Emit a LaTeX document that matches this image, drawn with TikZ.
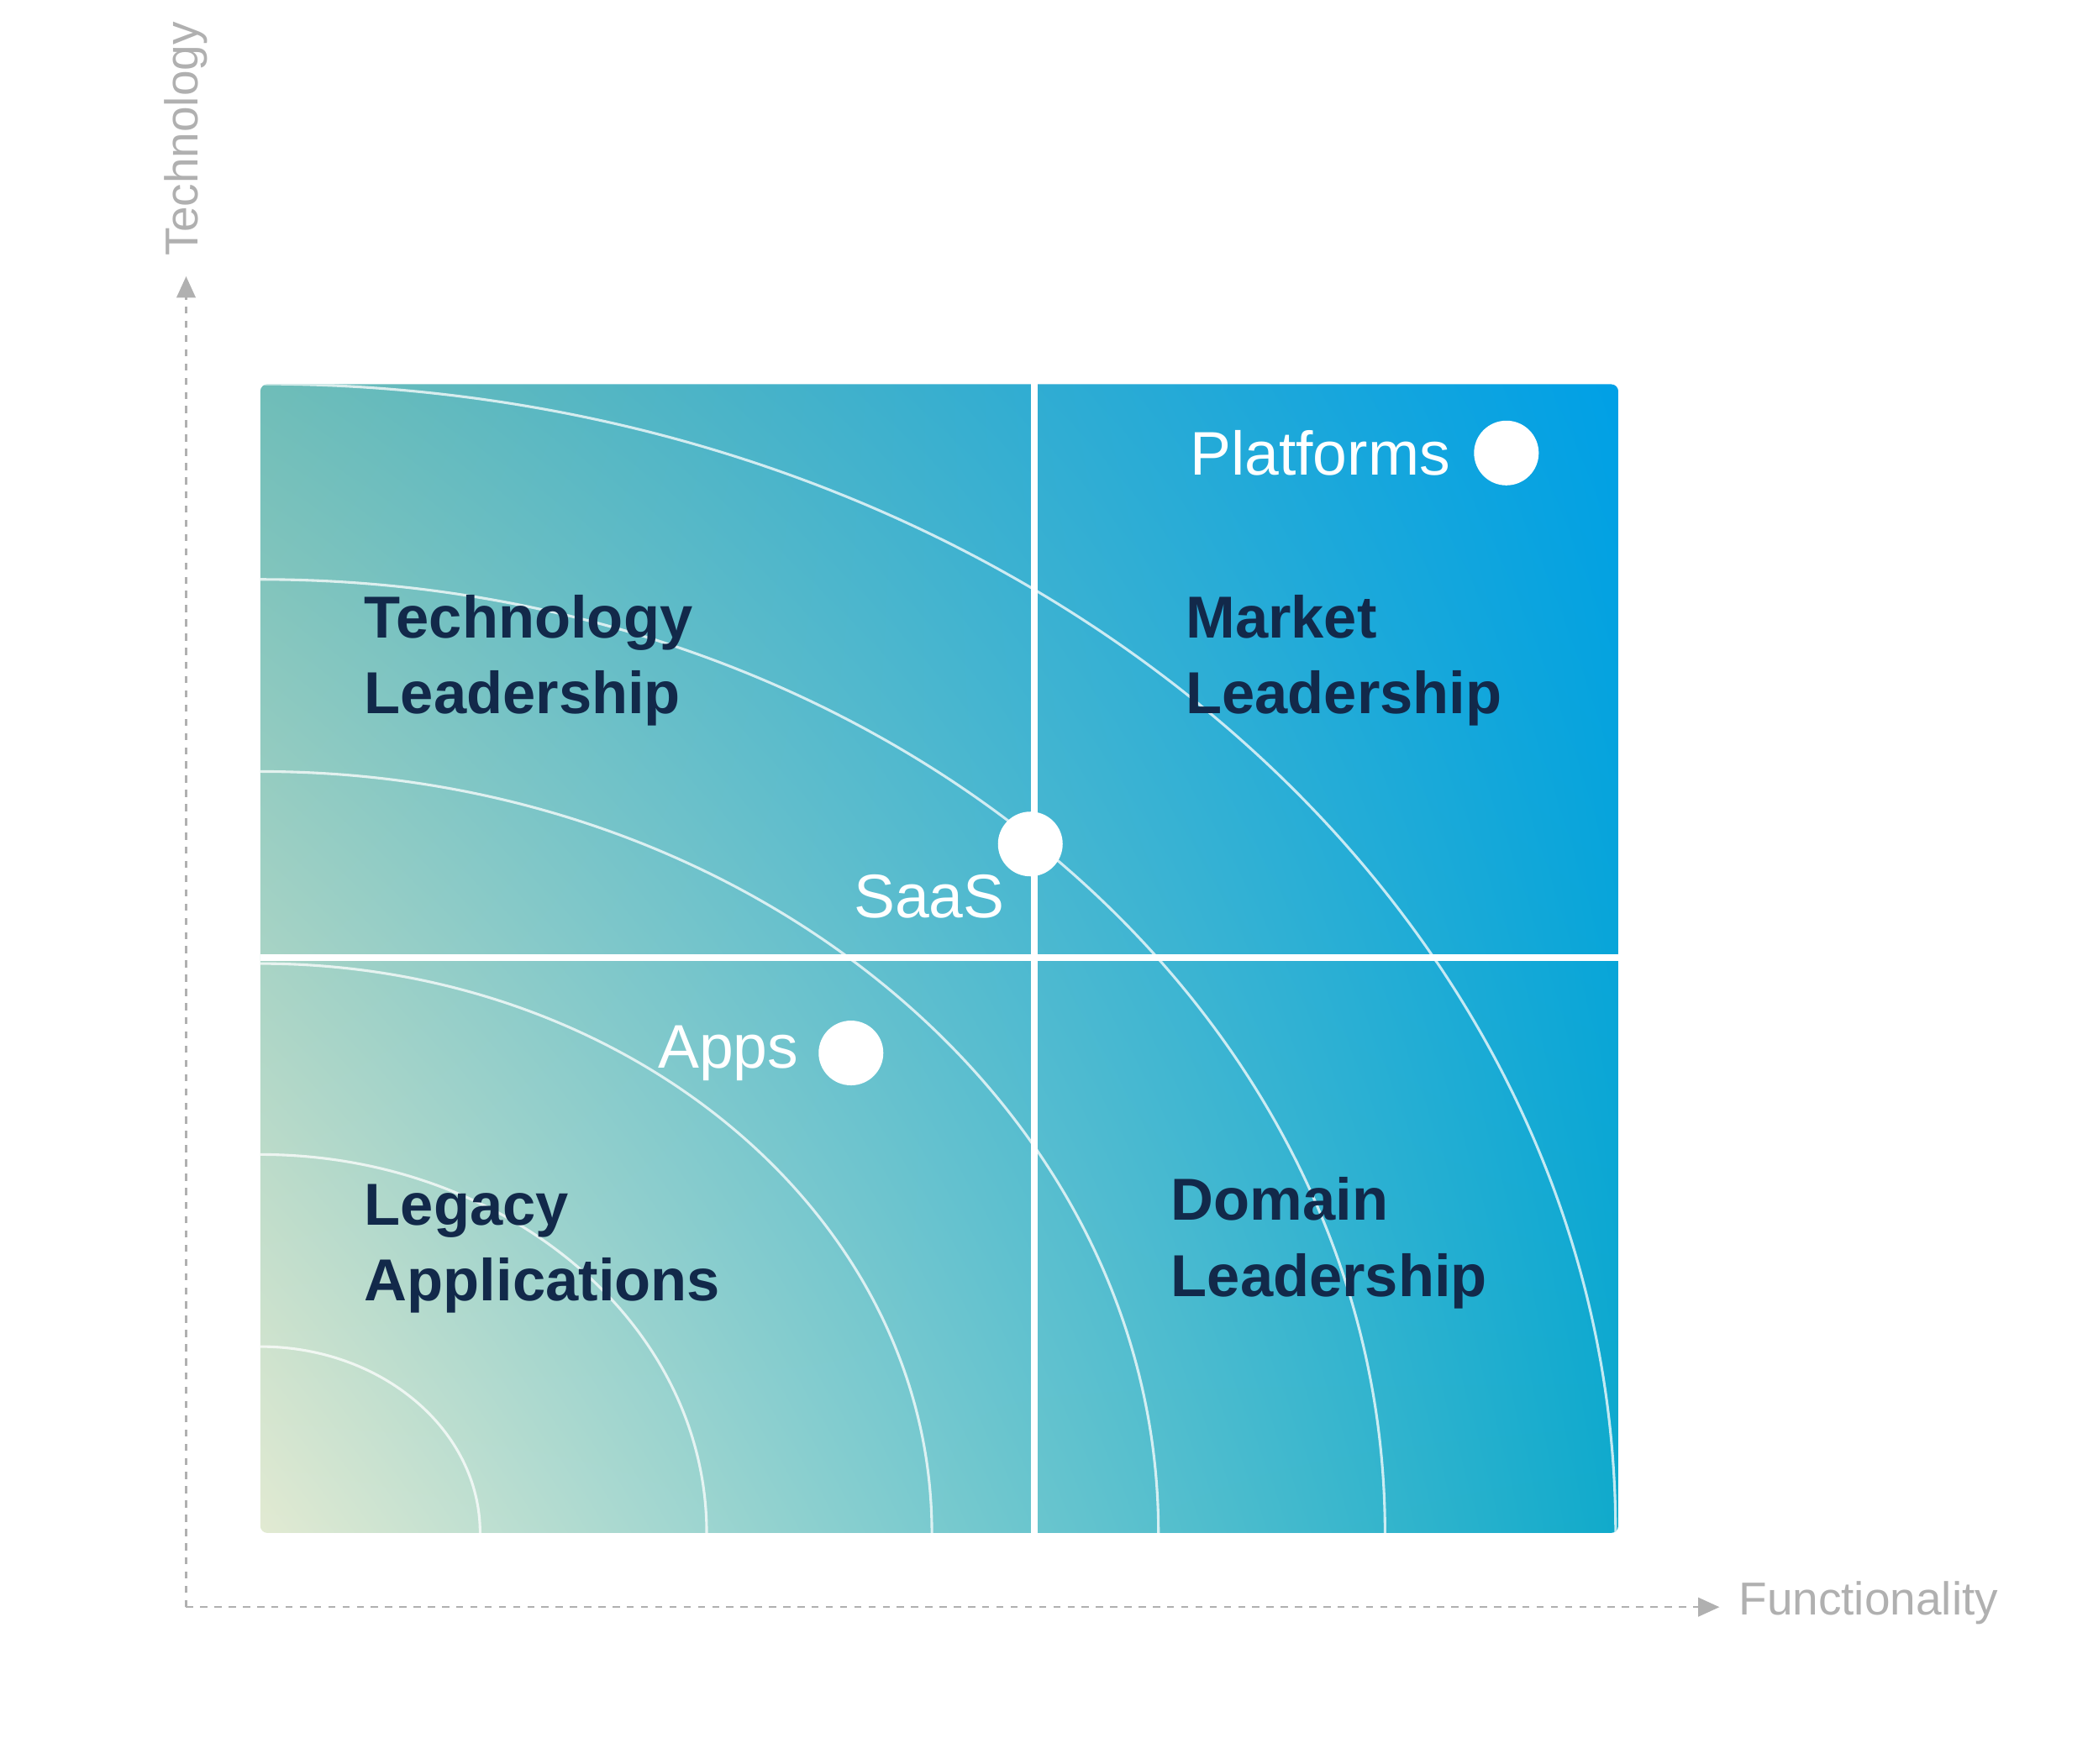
\documentclass[tikz,border=0pt]{standalone}
\usepackage{fontspec}
\setmainfont{Liberation Sans}
\usetikzlibrary{arrows.meta,shadings}
\definecolor{navy}{HTML}{12294A}
\definecolor{axisgray}{HTML}{B0B0B0}
\definecolor{ul}{HTML}{6FBDB8}
\definecolor{ur}{HTML}{00A0E6}
\definecolor{ll}{HTML}{E2EAD2}
\definecolor{lr}{HTML}{10AACB}
\tikzset{
  bold/.style={font=\fontsize{25}{32}\selectfont\bfseries, text=navy, align=left, anchor=west, inner sep=0},
  wlabel/.style={font=\fontsize{26}{30}\selectfont, text=white, inner sep=0},
  dot/.style={circle, fill=white, minimum size=0.96cm, inner sep=0},
  axis/.style={axisgray, dash pattern=on 3pt off 3pt, line width=0.8pt},
  axlabel/.style={font=\fontsize{19.5}{22}\selectfont, text=axisgray, inner sep=0},
  arc/.style={white, opacity=0.75, line width=1.1pt},
  divider/.style={white, line width=2.8pt}
}
\begin{document}
\begin{tikzpicture}[x=0.02cm,y=-0.02cm]
\useasboundingbox (0,0) rectangle (1552,1308);
% axes
\coordinate (O) at (138,1192);
\coordinate (Ytop) at (138,205);
\coordinate (Xend) at (1275,1192);
\draw[axis,-{Triangle[length=9pt,width=8pt]}] (O) -- (Ytop);
\draw[axis,-{Triangle[length=9pt,width=8pt]}] (O) -- (Xend);
\node[axlabel, rotate=90] (tl) at (138,103) {Technology};
\node[axlabel, anchor=west] (fl) at (1289,1189) {Functionality};
% square
\begin{scope}
\clip[rounded corners=3pt] (193,285) rectangle (1200,1137);
\shade[upper left=ul, upper right=ur, lower left=ll, lower right=lr] (193,285) rectangle (1200,1137);
\foreach \r in {163,331,498,666,834,1005}{
  \draw[arc] (193,1137) ellipse [x radius=\r*0.02cm, y radius=0.848*\r*0.02cm];
}
\end{scope}
\draw[divider] (767,285) -- (767,1137);
\draw[divider] (193,710) -- (1200,710);
% labels
\node[bold] (tech) at (270,490) {Technology\\Leadership};
\node[bold] (mkt) at (879,490) {Market\\Leadership};
\node[bold] (leg) at (270,926) {Legacy\\Applications};
\node[bold] (dom) at (868,922) {Domain\\Leadership};
\node[wlabel, anchor=west] (plat) at (882,336) {Platforms};
\node[dot] (pd) at (1117,336) {};
\node[dot] (sd) at (764,626) {};
\node[wlabel] (saas) at (689,665) {SaaS};
\node[wlabel] (apps) at (540,781) {Apps};
\node[dot] (ad) at (631,781) {};
\end{tikzpicture}
\end{document}
